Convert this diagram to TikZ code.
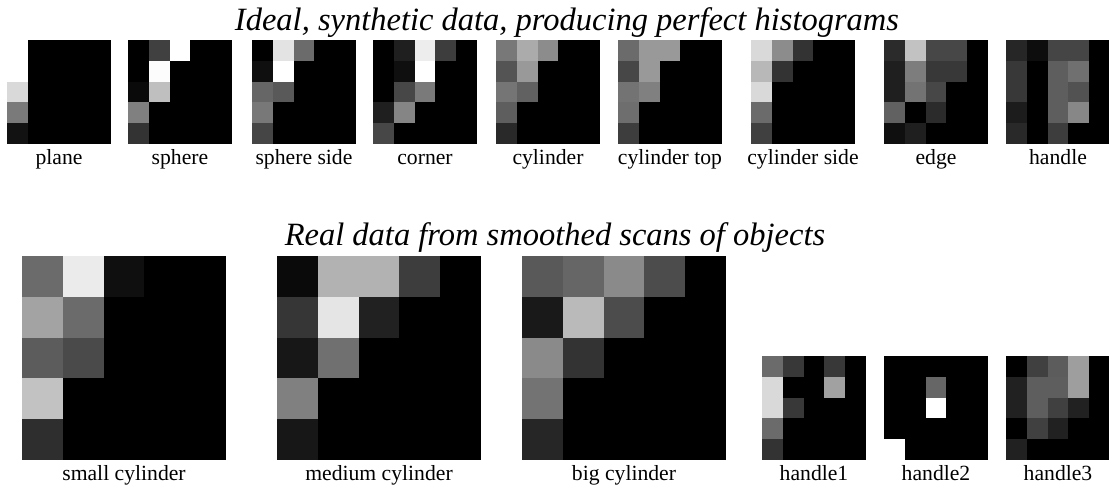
\documentclass[tikz,border=0pt]{standalone}
\usepackage{fontspec}
\setmainfont{Liberation Serif}
\usepackage{tikz}
\def\hplane{100,0,0,0,0, 100,0,0,0,0, 85,0,0,0,0, 48,0,0,0,0, 7,0,0,0,0}
\def\hsphere{0,25,100,0,0, 0,99,0,0,0, 4,75,0,0,0, 50,0,0,0,0, 20,0,0,0,0}
\def\hsphereside{0,89,42,0,0, 6,100,0,0,0, 40,35,0,0,0, 47,0,0,0,0, 27,0,0,0,0}
\def\hcorner{0,12,93,24,0, 0,6,100,0,0, 0,28,48,0,0, 12,52,0,0,0, 28,0,0,0,0}
\def\hcylinder{47,67,55,0,0, 33,60,0,0,0, 46,38,0,0,0, 37,0,0,0,0, 16,0,0,0,0}
\def\hcyltop{42,60,60,0,0, 28,60,0,0,0, 45,50,0,0,0, 43,0,0,0,0, 24,0,0,0,0}
\def\hcylside{85,55,20,0,0, 72,20,0,0,0, 85,0,0,0,0, 42,0,0,0,0, 25,0,0,0,0}
\def\hedge{17,76,28,28,0, 12,49,22,22,0, 12,45,28,0,0, 38,0,17,0,0, 6,12,0,0,0}
\def\hhandle{15,5,27,27,0, 22,0,37,44,0, 22,0,37,32,0, 11,0,37,53,0, 16,0,24,0,0}
\def\hsmallcyl{42,92,6,0,0, 64,42,0,0,0, 36,29,0,0,0, 76,0,0,0,0, 18,0,0,0,0}
\def\hmediumcyl{4,70,70,24,0, 21,90,13,0,0, 9,44,0,0,0, 50,0,0,0,0, 9,0,0,0,0}
\def\hbigcyl{35,40,54,30,0, 10,73,30,0,0, 54,20,0,0,0, 45,0,0,0,0, 15,0,0,0,0}
\def\hhandleone{42,22,0,22,0, 85,0,0,63,0, 85,22,0,0,0, 42,0,0,0,0, 20,0,0,0,0}
\def\hhandletwo{0,0,0,0,0, 0,0,40,0,0, 0,0,100,0,0, 0,0,0,0,0, 100,0,0,0,0}
\def\hhandlethree{0,25,36,62,0, 13,37,37,62,0, 13,37,25,13,0, 0,25,13,0,0, 13,0,0,0,0}
% x, y, cell, data, name, label
\newcommand{\histo}[6]{%
  \foreach \v [count=\c from 0, evaluate=\c as \i using {int(mod(\c,5))},
      evaluate=\c as \j using {int(floor(\c/5))}] in #4 {
    \fill[white!\v!black] ({#1+\i*#3},{#2+\j*#3}) rectangle ++(#3+0.2,#3+0.2);
  }
  \node[lbl] (#5) at ({#1+2.5*#3},{#2+5*#3+20}) {#6};
}

\begin{document}
\begin{tikzpicture}[x=0.6pt,y=-0.6pt,
    lbl/.style={anchor=base,inner sep=0pt,font=\fontsize{13}{15}\selectfont},
    ttl/.style={anchor=base,inner sep=0pt,font=\fontsize{19.5}{22}\selectfont\itshape}]
  \useasboundingbox (0,0) rectangle (1109,493);
  \node[ttl] (ideal) at (567,30) {Ideal, synthetic data, producing perfect histograms};
  \histo{7}{40}{20.8}{\hplane}{plane}{plane}
  \histo{128}{40}{20.8}{\hsphere}{sphere}{sphere}
  \histo{252}{40}{20.8}{\hsphereside}{sphereside}{sphere side}
  \histo{373}{40}{20.8}{\hcorner}{corner}{corner}
  \histo{496}{40}{20.8}{\hcylinder}{cylinder}{cylinder}
  \histo{618}{40}{20.8}{\hcyltop}{cyltop}{cylinder top}
  \histo{751}{40}{20.8}{\hcylside}{cylside}{cylinder side}
  \histo{884}{40}{20.8}{\hedge}{edge}{edge}
  \histo{1006}{40}{20.8}{\hhandle}{handle}{handle}

  \node[ttl] (real) at (555,245) {Real data from smoothed scans of objects};
  \histo{22}{256}{40.8}{\hsmallcyl}{smallcyl}{small cylinder}
  \histo{277}{256}{40.8}{\hmediumcyl}{mediumcyl}{medium cylinder}
  \histo{522}{256}{40.8}{\hbigcyl}{bigcyl}{big cylinder}
  \histo{762}{356}{20.8}{\hhandleone}{handleone}{handle1}
  \histo{884}{356}{20.8}{\hhandletwo}{handletwo}{handle2}
  \histo{1006}{356}{20.8}{\hhandlethree}{handlethree}{handle3}
\end{tikzpicture}
\end{document}
